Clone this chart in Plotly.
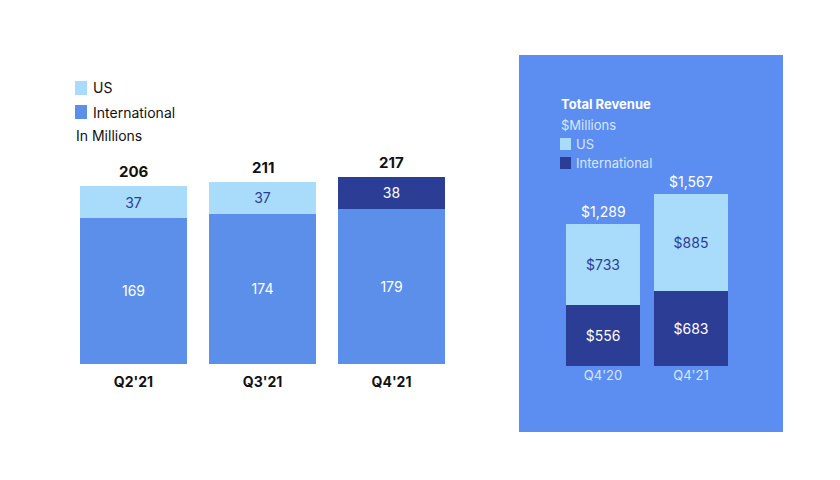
import plotly.graph_objects as go

# Left chart data
q_cats = ["Q2'21", "Q3'21", "Q4'21"]
q_intl = [169, 174, 179]
q_us = [37, 37, 38]
q_total = [206, 211, 217]
# Right chart data (revenue, $M)
r_cats = ["Q4'20", "Q4'21"]
r_intl = [556, 683]
r_us = [733, 885]
r_total = [1289, 1567]

LIGHT = "#a9dcfb"
MED = "#5b8fea"
DARK = "#2c3d96"
PANEL = "#5b8ef0"
W, H = 840, 480
OFF = 8
px = lambda x: (x - OFF) / W
py = lambda y: 1 - (y - OFF) / H

fig = go.Figure()
us_colors = [LIGHT, LIGHT, DARK]
us_font = [DARK, DARK, "white"]
fig.add_bar(x=q_cats, y=q_intl, marker_color=MED, text=q_intl, textposition="inside",
            insidetextanchor="middle", textfont=dict(color="white", size=14), width=0.83,
            xaxis="x", yaxis="y")
fig.add_bar(x=q_cats, y=q_us, marker_color=us_colors, text=q_us, textposition="inside",
            insidetextanchor="middle", textfont=dict(color=us_font, size=14), width=0.83,
            xaxis="x", yaxis="y")
fig.add_bar(x=r_cats, y=r_intl, marker_color=DARK, text=[f"${v}" for v in r_intl],
            textposition="inside", insidetextanchor="middle",
            textfont=dict(color="white", size=14), width=0.84, xaxis="x2", yaxis="y2")
fig.add_bar(x=r_cats, y=r_us, marker_color=LIGHT, text=[f"${v}" for v in r_us],
            textposition="inside", insidetextanchor="middle",
            textfont=dict(color=DARK, size=14), width=0.84, xaxis="x2", yaxis="y2")
for b in fig.data:
    b.marker.line.width = 0

ann = []
for c, t in zip(q_cats, q_total):
    ann.append(dict(x=c, y=t, xref="x", yref="y", text=f"<b>{t}</b>", showarrow=False,
                    yanchor="bottom", yshift=3, font=dict(size=15, color="#111")))
for c, t in zip(r_cats, r_total):
    ann.append(dict(x=c, y=t, xref="x2", yref="y2", text=f"${t:,}", showarrow=False,
                    yanchor="bottom", yshift=2, font=dict(size=14, color="white")))

shapes = [dict(type="rect", xref="paper", yref="paper", x0=px(519), x1=px(783),
               y0=py(432), y1=py(55), fillcolor=PANEL, line_width=0, layer="below")]
# left legend
for y, col, lab in [(88, LIGHT, "US"), (112, MED, "International")]:
    shapes.append(dict(type="rect", xref="paper", yref="paper", x0=px(75), x1=px(87),
                       y0=py(y + 7), y1=py(y - 7), fillcolor=col, line_width=0))
    ann.append(dict(x=px(91), y=py(y), xref="paper", yref="paper", text=lab, showarrow=False,
                    xanchor="left", yanchor="middle", font=dict(size=14, color="#111")))
ann.append(dict(x=px(74), y=py(136), xref="paper", yref="paper", text="In Millions",
                showarrow=False, xanchor="left", yanchor="middle",
                font=dict(size=14, color="#111")))
# right legend
ann.append(dict(x=px(559), y=py(104), xref="paper", yref="paper", text="<b>Total Revenue</b>",
                showarrow=False, xanchor="left", yanchor="middle",
                font=dict(size=13, color="white")))
ann.append(dict(x=px(559), y=py(125), xref="paper", yref="paper", text="$Millions",
                showarrow=False, xanchor="left", yanchor="middle",
                font=dict(size=13, color="#d8e6ff")))
for y, col, lab in [(144, LIGHT, "US"), (163, DARK, "International")]:
    shapes.append(dict(type="rect", xref="paper", yref="paper", x0=px(560), x1=px(571),
                       y0=py(y + 6), y1=py(y - 6), fillcolor=col, line_width=0))
    ann.append(dict(x=px(574), y=py(y), xref="paper", yref="paper", text=lab, showarrow=False,
                    xanchor="left", yanchor="middle", font=dict(size=13, color="#d8e6ff")))

fig.update_layout(
    width=W, height=H, margin=dict(l=0, r=0, t=0, b=0), barmode="stack",
    plot_bgcolor="rgba(0,0,0,0)", paper_bgcolor="white", showlegend=False,
    font=dict(family="Inter, Roboto, sans-serif"),
    xaxis=dict(domain=[px(69), px(456)], showgrid=False, zeroline=False,
               tickfont=dict(size=14, color="#111"), ticks="", ticklabelstandoff=8,
               tickvals=q_cats, ticktext=[f"<b>{c}</b>" for c in q_cats]),
    yaxis=dict(domain=[py(364), py(148)], range=[0, 250], visible=False),
    xaxis2=dict(domain=[px(559), px(735)], showgrid=False, zeroline=False,
                tickfont=dict(size=13, color="#d8e6ff"), anchor="y2", ticks=""),
    yaxis2=dict(domain=[py(366), py(168)], range=[0, 1800], visible=False, anchor="x2"),
    annotations=ann, shapes=shapes,
)
fig.write_html("out.html")
